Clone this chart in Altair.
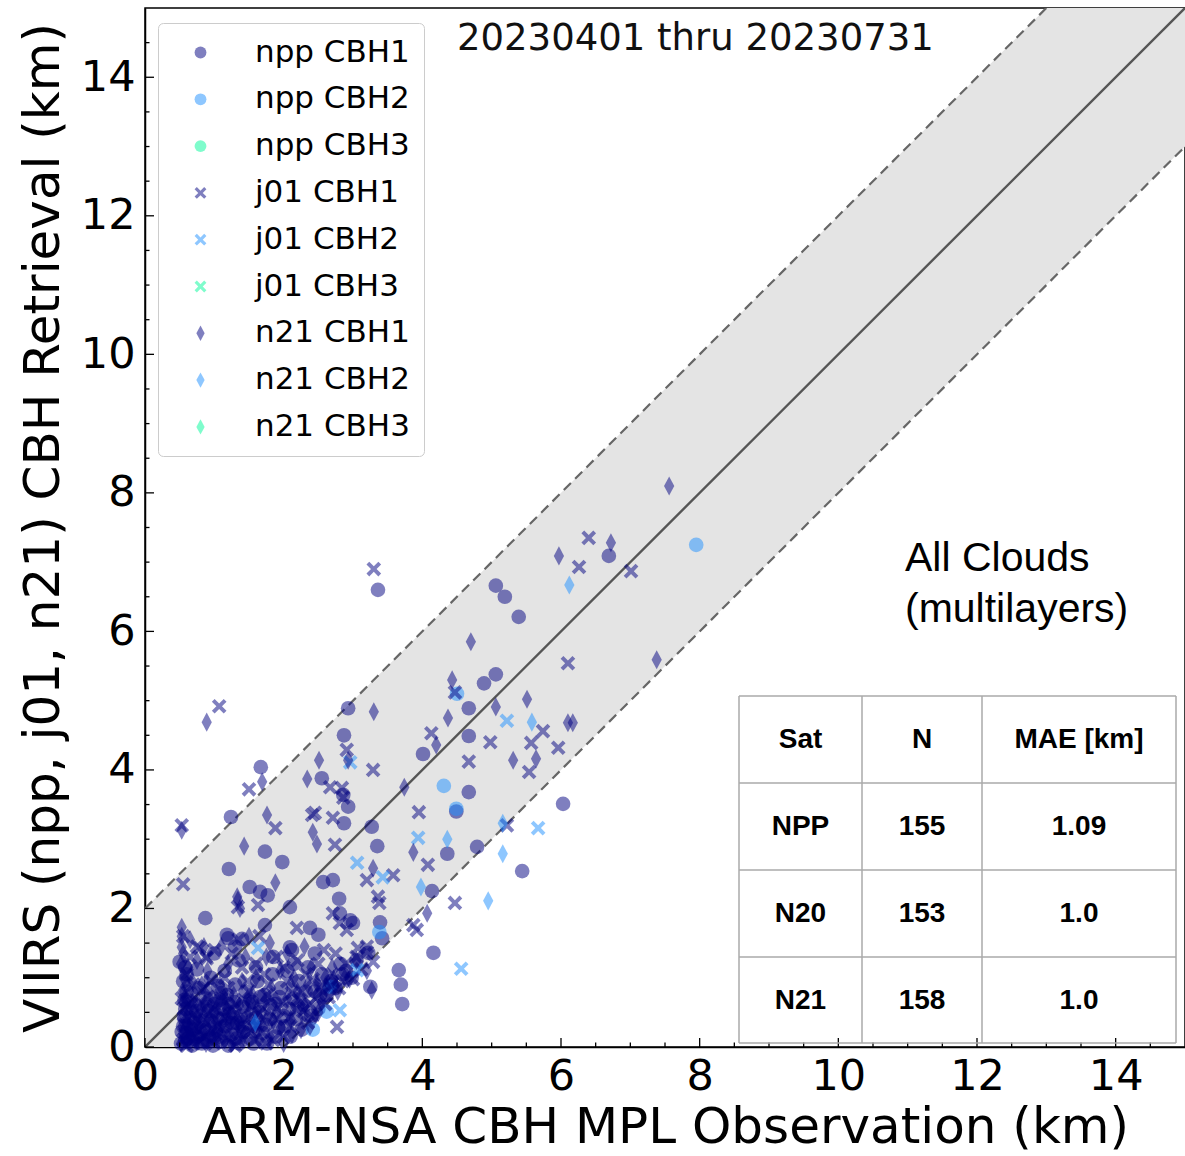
import altair as alt
import pandas as pd

# ---------------- data ----------------
series_names = ["npp CBH1", "npp CBH2", "npp CBH3",
                "j01 CBH1", "j01 CBH2", "j01 CBH3",
                "n21 CBH1", "n21 CBH2", "n21 CBH3"]

npp_cbh1 = [
    (6.69, 7.09), (3.36, 6.60), (5.06, 6.66), (5.19, 6.50), (5.39, 6.21), (4.89, 5.25), (5.06, 5.38),
    (4.67, 4.89), (2.93, 4.89), (2.87, 4.50), (4.67, 4.49), (4.01, 4.23), (1.67, 4.04), (2.55, 3.88),
    (1.24, 3.32), (2.86, 3.64), (2.93, 3.47), (2.87, 3.23), (3.27, 3.18), (3.35, 2.90), (4.67, 3.68),
    (6.03, 3.51), (4.49, 3.40), (4.36, 2.79), (4.79, 2.89), (5.44, 2.54), (4.14, 2.25), (1.73, 2.82),
    (1.98, 2.67), (1.21, 2.57), (2.80, 2.14), (2.57, 2.38), (2.71, 2.41), (2.96, 1.83), (2.81, 1.93),
    (3.39, 1.80), (3.42, 1.57), (2.09, 2.02), (0.87, 1.86), (1.20, 1.57), (1.40, 1.56), (1.18, 1.62),
    (1.51, 2.31), (1.66, 2.24), (1.77, 2.19), (0.50, 1.23), (0.58, 1.15), (1.73, 1.76), (2.38, 1.72),
    (2.50, 1.62), (2.12, 1.40), (3.00, 1.79), (3.25, 0.87), (4.16, 1.36), (3.66, 1.11), (3.69, 0.90),
    (3.71, 0.62), (2.09, 1.44), (3.22, 1.36),
    (0.52, 0.05), (0.55, 0.30), (0.58, 0.55), (0.60, 0.80), (0.62, 0.12), (0.65, 0.42), (0.55, 0.95),
    (0.57, 0.68), (0.60, 0.20), (0.68, 0.02), (0.70, 0.35), (0.72, 0.60), (0.75, 0.15), (0.78, 0.85),
    (0.80, 0.45), (0.82, 0.05), (0.85, 0.28), (0.88, 0.70), (0.90, 0.10), (0.92, 0.52), (0.95, 0.38),
    (0.98, 0.02), (1.00, 0.62), (1.02, 0.22), (1.05, 0.88), (1.08, 0.40), (1.10, 0.08), (1.12, 0.55),
    (1.15, 0.30), (1.18, 0.75), (1.20, 0.02), (1.22, 0.48), (1.25, 0.18), (1.28, 0.65), (1.30, 0.90),
    (1.33, 0.35), (1.36, 0.05), (1.40, 0.58), (1.42, 0.22), (1.45, 0.80), (1.48, 0.42), (1.52, 0.12),
    (1.55, 0.65), (1.58, 0.30), (1.62, 0.95), (1.65, 0.50), (1.70, 0.20), (1.72, 0.75), (1.76, 0.05),
    (1.80, 0.40), (1.84, 1.05), (1.88, 0.62), (1.92, 0.28), (1.96, 0.85), (2.00, 0.45), (2.05, 1.10),
    (2.10, 0.15), (2.14, 0.70), (2.18, 0.40), (2.22, 0.95), (2.26, 0.25), (2.30, 0.60), (2.35, 1.15),
    (2.40, 0.45), (2.45, 0.80), (2.50, 0.55), (2.55, 1.05), (2.62, 0.75), (2.68, 0.95), (2.75, 0.85),
    (2.82, 1.20), (2.90, 1.10), (2.98, 1.00), (3.05, 1.25), (0.60, 1.05), (0.75, 1.12), (0.95, 1.00),
    (1.15, 1.10), (1.35, 1.25), (1.60, 1.15), (1.85, 1.30), (2.15, 1.20), (2.45, 1.35), (0.70, 0.25),
    (1.00, 1.35), (1.30, 1.45), (0.58, 0.10), (0.85, 0.08), (1.10, 0.78),
    (0.53, 0.22), (0.56, 0.45), (0.60, 0.65), (0.66, 0.28), (0.70, 0.12), (0.74, 0.52), (0.80, 0.18),
    (0.84, 0.38), (0.90, 0.58), (0.94, 0.25), (1.00, 0.12), (1.04, 0.42), (1.08, 0.68), (1.14, 0.20),
    (1.20, 0.62), (1.26, 0.35), (1.32, 0.12), (1.38, 0.45), (1.44, 0.28), (1.50, 0.62), (1.56, 0.05),
    (1.60, 0.42), (1.66, 0.72), (1.74, 0.32), (1.80, 0.60), (1.88, 0.15), (1.94, 0.72), (2.02, 0.30),
    (2.08, 0.55), (2.20, 0.60), (2.32, 0.80), (2.52, 0.75), (2.70, 0.90), (2.85, 1.05)]
npp_cbh2 = [(7.95, 7.25), (4.50, 5.10), (4.31, 3.77), (4.49, 3.44), (3.38, 1.66), (2.42, 0.25),
            (2.67, 0.87), (2.62, 0.51)]
npp_cbh3 = []

j01_cbh1 = [
    (3.30, 6.90), (6.40, 7.35), (6.26, 6.93), (7.01, 6.87), (6.10, 5.54), (4.47, 5.12), (5.74, 4.56),
    (4.98, 4.40), (5.57, 4.39), (5.96, 4.32), (4.13, 4.53), (2.91, 4.29), (4.67, 4.12), (5.54, 3.97),
    (3.29, 4.00), (1.07, 4.92), (1.50, 3.72), (0.53, 3.20), (2.67, 3.75), (2.84, 3.74), (2.86, 3.60),
    (2.41, 3.35), (2.45, 3.38), (1.88, 3.16), (2.71, 3.31), (2.74, 2.92), (3.95, 3.39), (5.22, 3.20),
    (4.08, 2.63), (4.47, 2.08), (3.92, 1.69), (3.87, 1.76), (3.36, 2.17), (3.38, 2.08), (3.58, 2.48),
    (3.20, 2.41), (0.55, 2.35), (1.34, 2.02), (1.63, 2.05), (0.79, 1.43), (0.89, 1.28), (2.19, 1.72),
    (2.71, 1.93), (2.81, 1.79), (2.91, 1.69), (3.07, 1.43), (3.20, 1.37), (3.29, 1.23), (2.77, 0.29),
    (0.55, 0.10), (0.58, 0.32), (0.56, 0.55), (0.62, 0.78), (0.70, 0.05), (0.74, 0.40), (0.80, 0.65),
    (0.85, 0.15), (0.92, 0.50), (1.00, 0.05), (1.05, 0.30), (1.10, 0.70), (1.18, 0.12), (1.22, 0.45),
    (1.30, 0.62), (1.38, 0.20), (1.45, 0.40), (1.50, 0.80), (1.58, 0.10), (1.62, 0.30), (1.70, 0.55),
    (1.78, 0.90), (1.85, 0.10), (1.90, 0.40), (1.98, 0.65), (2.05, 0.95), (2.10, 0.30), (2.18, 0.55),
    (2.25, 0.80), (2.32, 1.05), (2.40, 0.45), (2.46, 0.70), (2.55, 0.90), (2.60, 0.62), (2.70, 1.05),
    (2.80, 0.85), (2.90, 1.20), (3.00, 0.98), (3.12, 1.12), (0.60, 1.05), (0.65, 1.30), (0.70, 0.90),
    (0.95, 0.95), (1.15, 1.00), (1.40, 1.15), (1.60, 1.20), (1.90, 1.30), (2.20, 1.25), (2.50, 1.20),
    (0.75, 1.45), (0.88, 1.30), (1.30, 0.02), (0.60, 0.02), (2.00, 0.15), (1.75, 0.05), (2.35, 0.35),
    (2.65, 0.72), (1.10, 0.50), (0.85, 0.85), (1.55, 0.60), (2.85, 0.95), (0.55, 1.60), (1.00, 1.40),
    (1.25, 1.35), (2.75, 1.35), (3.05, 1.30), (0.65, 0.20), (0.78, 0.25), (0.95, 0.22), (1.12, 0.28),
    (1.28, 0.38), (1.42, 0.68), (1.68, 0.22), (1.82, 0.70), (2.12, 0.78), (2.28, 0.52), (0.68, 0.62),
    (0.90, 0.72), (1.20, 0.85), (1.48, 0.95), (1.72, 1.05), (2.00, 1.15), (2.42, 0.98), (2.58, 1.40),
    (3.20, 1.45), (1.35, 1.55), (1.65, 1.60),
    (0.53, 0.70), (0.62, 0.42), (0.70, 0.28), (0.78, 0.08), (0.88, 0.35), (0.98, 0.55), (1.04, 0.15),
    (1.16, 0.42), (1.25, 0.55), (1.34, 0.08), (1.40, 0.32), (1.52, 0.22), (1.64, 0.48), (1.76, 0.75),
    (1.92, 0.55), (2.08, 0.42), (2.22, 0.68), (2.38, 0.62), (2.52, 0.85), (2.68, 0.88)]
j01_cbh2 = [(5.22, 4.71), (2.96, 4.11), (5.67, 3.16), (3.94, 3.02), (3.06, 2.66), (3.43, 2.45),
            (4.56, 1.13), (1.63, 1.43), (2.81, 0.53), (3.06, 1.11)]
j01_cbh3 = []

n21_cbh1 = [
    (7.56, 8.10), (6.72, 7.28), (5.97, 7.09), (4.70, 5.85), (7.38, 5.59), (4.43, 5.30), (5.51, 5.02),
    (5.06, 4.91), (3.30, 4.84), (4.37, 4.75), (6.10, 4.68), (6.17, 4.68), (4.20, 4.36), (5.31, 4.14),
    (5.64, 4.16), (0.89, 4.69), (1.69, 3.83), (0.53, 3.13), (2.93, 4.14), (2.51, 4.14), (2.34, 3.87),
    (3.74, 3.75), (1.76, 3.35), (2.42, 3.10), (2.48, 2.93), (1.43, 2.90), (3.87, 2.81), (3.29, 2.58),
    (1.88, 2.37), (1.34, 2.12), (1.37, 2.00), (4.07, 1.93), (0.53, 1.73), (0.53, 1.60), (0.53, 1.44),
    (3.27, 0.82), (1.33, 2.17),
    (0.52, 0.05), (0.55, 0.20), (0.53, 0.40), (0.58, 0.60), (0.54, 0.80), (0.56, 1.00), (0.52, 1.20),
    (0.55, 1.35), (0.66, 0.15), (0.70, 0.50), (0.72, 0.75), (0.78, 0.30), (0.82, 0.90), (0.88, 0.05),
    (0.93, 0.40), (0.98, 0.70), (1.02, 0.20), (1.08, 0.90), (1.12, 0.35), (1.18, 0.55), (1.25, 0.05),
    (1.28, 0.75), (1.33, 0.40), (1.40, 0.95), (1.42, 0.15), (1.50, 0.50), (1.55, 0.75), (1.60, 1.00),
    (1.68, 0.35), (1.72, 0.65), (1.80, 0.15), (1.82, 0.85), (1.90, 0.50), (1.95, 1.10), (2.00, 0.05),
    (2.05, 0.70), (2.10, 0.40), (2.15, 1.00), (2.25, 0.25), (2.30, 0.60), (2.35, 0.90), (2.40, 1.15),
    (2.50, 0.50), (2.55, 0.65), (2.62, 0.85), (2.70, 1.15), (2.78, 0.80), (2.88, 1.00), (2.95, 0.98),
    (3.05, 1.25), (3.20, 1.10), (0.62, 1.15), (0.75, 1.25), (0.90, 1.10), (1.20, 1.20), (1.45, 1.30),
    (1.75, 1.30), (2.05, 1.35), (1.00, 0.50), (1.30, 0.25), (0.60, 0.35), (0.80, 0.55), (1.65, 0.10),
    (2.20, 0.80), (2.45, 0.45), (0.68, 0.95), (0.58, 0.10), (0.63, 0.48), (0.74, 0.08), (0.86, 0.62),
    (0.96, 0.18), (1.06, 0.62), (1.15, 0.10), (1.22, 0.32), (1.36, 0.60), (1.58, 0.28), (1.85, 0.38),
    (2.12, 0.18), (2.38, 0.30), (2.60, 1.00), (0.65, 1.55), (0.85, 1.45), (1.10, 1.45), (1.50, 1.60),
    (1.80, 1.50), (2.30, 1.45),
    (0.54, 0.30), (0.57, 0.70), (0.60, 0.90), (0.64, 0.25), (0.69, 0.65), (0.76, 0.42), (0.84, 0.22),
    (0.90, 0.82), (1.04, 0.32), (1.14, 0.72), (1.24, 0.48), (1.38, 0.30), (1.48, 0.70), (1.62, 0.55),
    (1.78, 0.45), (1.96, 0.28), (2.10, 0.90), (2.28, 0.45), (2.48, 0.92), (2.72, 0.98)]
n21_cbh2 = [(6.12, 6.67), (5.58, 4.69), (5.16, 3.23), (4.36, 3.00), (5.16, 2.79), (4.95, 2.11),
            (3.98, 2.31), (1.59, 0.35)]
n21_cbh3 = []

series_points = [npp_cbh1, npp_cbh2, npp_cbh3, j01_cbh1, j01_cbh2, j01_cbh3,
                 n21_cbh1, n21_cbh2, n21_cbh3]

axis_ticks = [0, 2, 4, 6, 8, 10, 12, 14]
minor_ticks = [0.5, 1, 1.5, 2.5, 3, 3.5, 4.5, 5, 5.5, 6.5, 7, 7.5, 8.5, 9, 9.5,
               10.5, 11, 11.5, 12.5, 13, 13.5, 14.5]

table_header = ["Sat", "N", "MAE [km]"]
table_sat = ["NPP", "N20", "N21"]
table_n = ["155", "153", "158"]
table_mae = ["1.09", "1.0", "1.0"]

date_text = "20230401 thru 20230731"
note_text = ["All Clouds", "(multilayers)"]

# ---------------- styles ----------------
W, H = 1040, 1039
X_PATH = ("M-1,-0.62L-0.62,-1L0,-0.38L0.62,-1L1,-0.62L0.38,0L1,0.62L0.62,1"
          "L0,0.38L-0.62,1L-1,0.62L-0.38,0Z")
D_PATH = "M0,-1.3L0.7,0L0,1.3L-0.7,0Z"
series_colors = ["#000080", "#1e90ff", "#00fa9a"] * 3
series_shapes = ["circle"] * 3 + [X_PATH] * 3 + [D_PATH] * 3

rows = []
for name, pts in zip(series_names, series_points):
    for (ox, oy) in pts:
        rows.append({"series": name, "obs": ox, "ret": oy})
df = pd.DataFrame(rows)

xs = alt.Scale(domain=[0, 15], nice=False, zero=False)
ys = alt.Scale(domain=[0, 15], nice=False, zero=False)

leg = alt.Legend(title=None, orient="none", legendX=13, legendY=15,
                 fillColor="white", strokeColor="#cccccc", cornerRadius=5,
                 padding=14, labelFontSize=31, labelFont="DejaVu Sans",
                 labelColor="black", symbolSize=140, symbolOpacity=0.5,
                 symbolStrokeWidth=0, rowPadding=14.8, labelOffset=39,
                 symbolOffset=13, labelLimit=400)

points = alt.Chart(df).mark_point(filled=True, opacity=0.5, size=215, strokeWidth=0).encode(
    x=alt.X("obs:Q", scale=xs,
            axis=alt.Axis(values=axis_ticks, format="d", title="ARM-NSA CBH MPL Observation (km)",
                          ticks=False, tickSize=0, grid=False, labelPadding=8,
                          titlePadding=4, labelFlush=False)),
    y=alt.Y("ret:Q", scale=ys,
            axis=alt.Axis(values=axis_ticks, format="d", title="VIIRS (npp, j01, n21) CBH Retrieval (km)",
                          ticks=False, tickSize=0, grid=False, labelPadding=10,
                          titlePadding=12, labelFlush=False)),
    color=alt.Color("series:N", scale=alt.Scale(domain=series_names, range=series_colors), legend=leg),
    shape=alt.Shape("series:N", scale=alt.Scale(domain=series_names, range=series_shapes), legend=leg),
)

band_df = pd.DataFrame({"bx": [0, 15]})
band = alt.Chart(band_df).transform_calculate(
    lo="datum.bx - 2", hi="datum.bx + 2"
).mark_area(color="#e4e4e4", clip=True).encode(
    x=alt.X("bx:Q", scale=xs), y=alt.Y("lo:Q", scale=ys), y2="hi:Q")

one2one = alt.Chart(band_df).mark_line(color="#555555", strokeWidth=2.4, clip=True).encode(
    x=alt.X("bx:Q", scale=xs), y=alt.Y("bx:Q", scale=ys))
upper = alt.Chart(band_df).transform_calculate(v="datum.bx + 2").mark_line(
    color="#666666", strokeWidth=2.2, strokeDash=[10, 6], clip=True).encode(
    x=alt.X("bx:Q", scale=xs), y=alt.Y("v:Q", scale=ys))
lower = alt.Chart(band_df).transform_calculate(v="datum.bx - 2").mark_line(
    color="#666666", strokeWidth=2.2, strokeDash=[10, 6], clip=True).encode(
    x=alt.X("bx:Q", scale=xs), y=alt.Y("v:Q", scale=ys))

maj_df = pd.DataFrame({"t": axis_ticks})
min_df = pd.DataFrame({"t": minor_ticks})
tick_layers = []
for d, ln in [(maj_df, 9), (min_df, 4.5)]:
    tick_layers.append(alt.Chart(d).mark_rule(color="black", strokeWidth=1.3).encode(
        x=alt.X("t:Q", scale=xs), y=alt.value(H), y2=alt.value(H - ln)))
    tick_layers.append(alt.Chart(d).mark_rule(color="black", strokeWidth=1.3).encode(
        y=alt.Y("t:Q", scale=ys), x=alt.value(0), x2=alt.value(ln)))

dummy = alt.Data(values=[{"a": 1}])
date_lbl = alt.Chart(dummy).mark_text(
    text=date_text, font="DejaVu Sans", fontSize=37, align="left", baseline="alphabetic",
    color="#111111").encode(x=alt.value(312), y=alt.value(42))
note_lbl = alt.Chart(dummy).mark_text(
    text=note_text, font="Liberation Sans", fontSize=41, align="left", baseline="alphabetic",
    lineHeight=51, color="black").encode(x=alt.value(760), y=alt.value(563))

# table
col_lines = [594, 717, 837, 1031]
row_lines = [688, 775, 862, 949, 1035]
col_centers = [655.5, 777, 934]
row_centers = [732, 819, 906, 993]
table_layers = []
for cx in col_lines:
    table_layers.append(alt.Chart(dummy).mark_rule(color="#aaaaaa", strokeWidth=1.5).encode(
        x=alt.value(cx), y=alt.value(row_lines[0]), y2=alt.value(row_lines[-1])))
for ry in row_lines:
    table_layers.append(alt.Chart(dummy).mark_rule(color="#aaaaaa", strokeWidth=1.5).encode(
        x=alt.value(col_lines[0]), x2=alt.value(col_lines[-1]), y=alt.value(ry)))
cells = [table_header] + [[s, n, m] for s, n, m in zip(table_sat, table_n, table_mae)]
for r, row in enumerate(cells):
    for c, txt in enumerate(row):
        table_layers.append(alt.Chart(dummy).mark_text(
            text=txt, font="Liberation Sans", fontWeight="bold", fontSize=28,
            align="center", baseline="middle", color="black").encode(
            x=alt.value(col_centers[c]), y=alt.value(row_centers[r])))

chart = alt.layer(band, one2one, upper, lower, points, *tick_layers, date_lbl, note_lbl,
                  *table_layers).properties(
    width=W, height=H,
    autosize=alt.AutoSizeParams(type="none"),
    padding={"left": 145, "top": 8, "right": 0, "bottom": 109},
).configure_view(stroke="black", strokeWidth=1.5).configure_axis(
    domainColor="black", domainWidth=1.5, labelFont="DejaVu Sans", labelFontSize=43,
    labelColor="black", titleFont="DejaVu Sans", titleFontSize=50, titleFontWeight="normal",
    titleColor="black")

chart.save("out.html", embed_options={"renderer": "svg", "actions": False})
